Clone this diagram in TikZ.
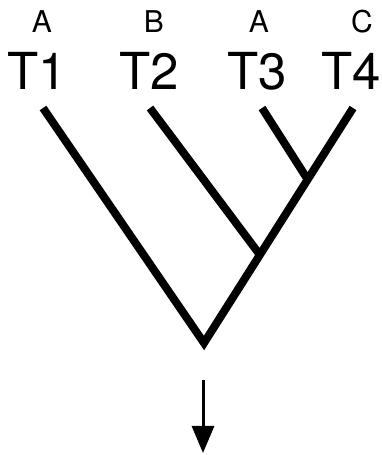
\documentclass[tikz,border=0pt]{standalone}
\usepackage{fontspec}
\setmainfont{TeX Gyre Heros}
\usetikzlibrary{arrows.meta}

\begin{document}
\begin{tikzpicture}[
  x=1pt, y=1pt,
  taxon/.style={inner sep=0pt, font=\fontsize{51}{52}\selectfont},
  state/.style={inner sep=0pt, font=\fontsize{30}{31}\selectfont},
  branch/.style={line width=8pt, line cap=butt, line join=miter},
]
\path[use as bounding box] (0,0) rectangle (382,455);

% Labels
\node[taxon] (t1) at (37,384) {T1};
\node[taxon] (t2) at (149,384) {T2};
\node[taxon] (t3) at (257,384) {T3};
\node[taxon] (t4) at (351,384) {T4};
\node[state] (s1) at (42,433) {A};
\node[state] (s2) at (154,433) {B};
\node[state] (s3) at (259,433) {A};
\node[state] (s4) at (362,433) {C};

% Tree
\coordinate (l1) at (43,347);
\coordinate (l2) at (150,347);
\coordinate (l3) at (262,347);
\coordinate (l4) at (353,347);
\coordinate (root) at (204,112);
\coordinate (j34) at (308,275);
\coordinate (j234) at (260,200);
\draw[branch] (l1) -- (root) -- (l4);
\draw[branch] (l2) -- (j234);
\draw[branch] (l3) -- (j34);

% Arrow
\coordinate (a0) at (203,75);
\coordinate (a1) at (203,2);
\draw[line width=3pt, -{Triangle[length=27pt, width=22pt]}] (a0) -- (a1);
\end{tikzpicture}
\end{document}
